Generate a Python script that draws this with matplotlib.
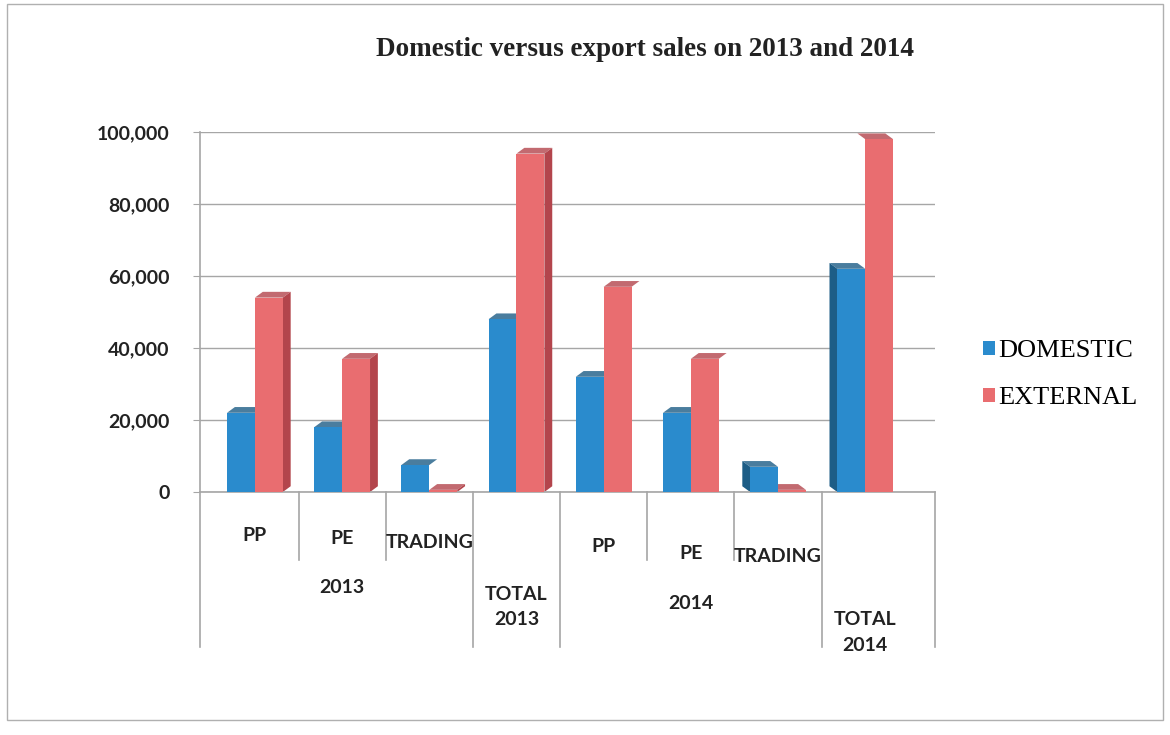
import matplotlib
matplotlib.use("Agg")
import matplotlib.pyplot as plt
from matplotlib.patches import Patch, Polygon, Rectangle
import matplotlib.transforms as mtransforms

# ---- data ----
categories = ["PP", "PE", "TRADING", "TOTAL\n2013", "PP", "PE", "TRADING", "TOTAL\n2014"]
domestic = [22000, 18000, 7500, 48000, 32000, 22000, 7000, 62000]
external = [54000, 37000, 600, 94000, 57000, 37000, 600, 98000]
series_names = ["DOMESTIC", "EXTERNAL"]
yticks = [0, 20000, 40000, 60000, 80000, 100000]
ytick_labels = ["0", "20,000", "40,000", "60,000", "80,000", "100,000"]
groups = ["2013", "2014"]
title = "Domestic versus export sales on 2013 and 2014"

BLUE = "#2a8bcd"
BLUE_DARK = "#1d5d86"
RED = "#e96d70"
RED_DARK = "#b3454c"
GRID = "#a6a6a6"

fig = plt.figure(figsize=(11.7, 7.35), dpi=100)
fig.patches.append(Rectangle((0.006, 0.02), 0.988, 0.975, transform=fig.transFigure,
                             fill=False, ec="#b0b0b0", lw=1.0))
ax = fig.add_axes([200 / 1170, (735 - 492) / 735, 735 / 1170, 360 / 735])

n = len(categories)
xs = list(range(n))
w = 0.32
dx, dy = 0.09, 1600

for i in xs:
    for j, (vals, col, dark) in enumerate([(domestic, BLUE, BLUE_DARK), (external, RED, RED_DARK)]):
        v = vals[i]
        x0 = i - w + j * w
        x1 = x0 + w
        if i <= 3:
            side_x = x1 if j == 1 else None
            sgn = 1
        elif i >= 6:
            side_x = x0 if j == 0 else None
            sgn = -1
        else:
            side_x = None
            sgn = 1
        if side_x is not None:
            ax.add_patch(Polygon([(side_x, 0), (side_x + sgn * dx, dy), (side_x + sgn * dx, v + dy),
                                  (side_x, v)], closed=True, fc=dark, ec="none", zorder=2))
        # top face
        ax.add_patch(Polygon([(x0, v), (x0 + sgn * dx, v + dy), (x1 + sgn * dx, v + dy), (x1, v)],
                             closed=True, fc=dark, ec="none", alpha=0.8, zorder=2))
        ax.bar(x0 + w / 2, v, width=w, color=col, zorder=3, linewidth=0)

ax.set_xlim(-0.63, 7.8)
ax.set_ylim(0, 100000)
ax.set_yticks(yticks)
ax.set_yticklabels(ytick_labels, fontfamily="Lato", fontweight="bold", fontsize=14, color="#222222")
ax.tick_params(axis="y", length=5, color=GRID, pad=17)
ax.set_xticks([])
ax.yaxis.grid(True, color=GRID, lw=1.0, zorder=0)
ax.set_axisbelow(True)
for s in ["top", "right"]:
    ax.spines[s].set_visible(False)
for s in ["left", "bottom"]:
    ax.spines[s].set_color(GRID)
    ax.spines[s].set_linewidth(1.2)

trans = mtransforms.blended_transform_factory(ax.transData, ax.transAxes)
lab_kw = dict(fontfamily="Lato", fontweight="bold", fontsize=14, color="#222222",
              ha="center", va="center", transform=trans, clip_on=False)

# category labels
label_y = [-0.12, -0.13, -0.14, -0.32, -0.15, -0.17, -0.18, -0.39]
for i in xs:
    ax.text(i, label_y[i], categories[i], linespacing=1.6, **lab_kw)
# group labels
ax.text(1, -0.265, groups[0], **lab_kw)
ax.text(5, -0.31, groups[1], **lab_kw)

# separators
short_sep = [0.5, 1.5, 4.5, 5.5]
long_sep = [-0.63, 2.5, 3.5, 6.5, 7.8]
for x in short_sep:
    ax.plot([x, x], [0, -0.19], color=GRID, lw=1.2, transform=trans, clip_on=False)
for x in long_sep:
    ax.plot([x, x], [0, -0.43], color=GRID, lw=1.2, transform=trans, clip_on=False)

fig.text(0.551, 0.933, title, ha="center", va="center", fontfamily="Liberation Serif",
         fontweight="bold", fontsize=19.5, color="#222222")

handles = [Patch(fc=BLUE, ec="none"), Patch(fc=RED, ec="none")]
fig.legend(handles, series_names, loc="center left", bbox_to_anchor=(0.82, 0.49),
           frameon=False, prop={"family": "Liberation Serif", "size": 19},
           handlelength=0.45, handleheight=0.45, handletextpad=0.12, labelspacing=0.95)

fig.savefig("out.png", dpi=100)
